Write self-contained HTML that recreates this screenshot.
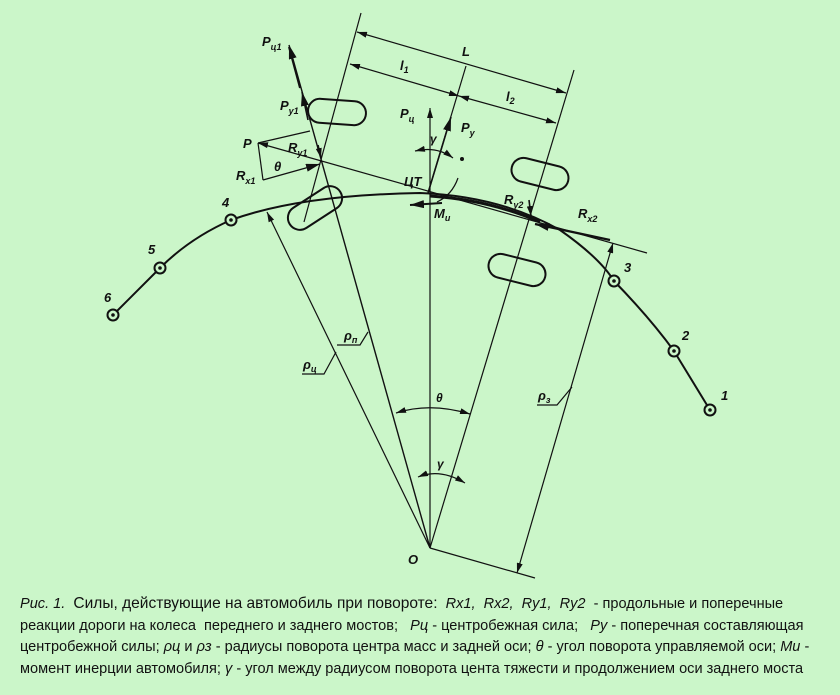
<!DOCTYPE html>
<html><head><meta charset="utf-8"><style>
html,body{margin:0;padding:0;background:#cbf6c9;}
.wrap{position:relative;width:840px;height:695px;overflow:hidden;}
svg{position:absolute;left:0;top:0;}
text{font-family:"Liberation Sans",sans-serif;font-weight:bold;font-style:italic;fill:#111;}
.cap{position:absolute;left:20px;top:593px;width:850px;font-family:"Liberation Sans",sans-serif;font-size:15px;line-height:21.5px;color:#111;white-space:nowrap;transform:scaleX(0.97);transform-origin:0 0;}
.cap i{font-style:italic;}
</style></head><body><div class="wrap">
<svg width="840" height="695" viewBox="0 0 840 695">
<defs>
<marker id="a" viewBox="0 0 10 6" refX="10" refY="3" markerWidth="10" markerHeight="6" orient="auto-start-reverse" markerUnits="userSpaceOnUse"><path d="M0,0 L10,3 L0,6 z" fill="#111"/></marker>
<marker id="b" viewBox="0 0 14 8" refX="14" refY="4" markerWidth="14" markerHeight="8" orient="auto-start-reverse" markerUnits="userSpaceOnUse"><path d="M0,0 L14,4 L0,8 z" fill="#111"/></marker>
</defs>
<g stroke="#111" fill="none" stroke-width="1.2">
<path d="M113,315 L160,268 Q190,238 231,220 Q300,195 420,193 Q500,196 560,230 Q600,258 614,281 Q650,318 674,351 L710,410" stroke-width="2"/>
<path d="M430,196 Q490,200 540,222" stroke-width="3"/>
<line x1="430" y1="548" x2="267" y2="212" marker-end="url(#a)"/>
<line x1="430" y1="548" x2="289" y2="45" marker-end="url(#b)" stroke-width="1.4"/>
<line x1="430" y1="548" x2="430" y2="108" marker-end="url(#a)"/>
<line x1="430" y1="548" x2="574" y2="70"/>
<line x1="430" y1="548" x2="535" y2="578"/>
<line x1="613" y1="243" x2="517" y2="573" marker-start="url(#a)" marker-end="url(#a)"/>
<line x1="258" y1="143" x2="647" y2="253"/>
<line x1="361" y1="13" x2="304" y2="222"/>
<line x1="428" y1="193" x2="466" y2="66"/>
<line x1="428" y1="193" x2="451" y2="117" marker-end="url(#b)" stroke-width="1.6"/>
<line x1="357" y1="32" x2="566" y2="93" marker-start="url(#a)" marker-end="url(#a)"/>
<line x1="350" y1="64" x2="459" y2="96" marker-start="url(#a)" marker-end="url(#a)"/>
<line x1="459" y1="96" x2="556" y2="123" marker-start="url(#a)" marker-end="url(#a)"/>
<line x1="258" y1="143" x2="310" y2="131"/>
<line x1="258" y1="143" x2="263" y2="180"/>
<line x1="263" y1="180" x2="320" y2="164" marker-end="url(#b)" stroke-width="1.4"/>
<line x1="258" y1="143" x2="267" y2="145" marker-start="url(#a)"/>
<line x1="318" y1="145" x2="321" y2="158" marker-end="url(#a)" stroke-width="1.6"/>
<line x1="308" y1="120" x2="302" y2="92" marker-end="url(#b)" stroke-width="1.6"/>
<line x1="300" y1="88" x2="289" y2="47" stroke-width="2"/>
<rect x="-29" y="-12" width="58" height="24" rx="12" transform="translate(337,112) rotate(4)" stroke-width="2"/>
<rect x="-30" y="-12" width="60" height="24" rx="12" transform="translate(315,208) rotate(-33)" stroke-width="2"/>
<rect x="-29" y="-12" width="58" height="24" rx="12" transform="translate(540,174) rotate(14)" stroke-width="2"/>
<rect x="-29" y="-12" width="58" height="24" rx="12" transform="translate(517,270) rotate(14)" stroke-width="2"/>
<line x1="529" y1="200" x2="531" y2="216" marker-end="url(#a)" stroke-width="1.6"/>
<line x1="610" y1="240" x2="535" y2="224" marker-end="url(#b)" stroke-width="2.2"/>
<line x1="442" y1="203" x2="410" y2="205" marker-end="url(#b)" stroke-width="2"/>
<path d="M458,178 Q452,195 437,202"/>
<path d="M415,151 Q437,146 453,158" marker-start="url(#a)" marker-end="url(#a)"/>
<path d="M396,413 Q430,402 470,414" marker-start="url(#a)" marker-end="url(#a)"/>
<path d="M418,477 Q440,468 465,483" marker-start="url(#a)" marker-end="url(#a)"/>
<polyline points="337,345 360,345 368,332"/>
<polyline points="302,374 324,374 336,352"/>
<polyline points="537,405 557,405 572,387"/>
</g>
<circle cx="462" cy="159" r="2" fill="#111"/>
<g fill="#cbf6c9" stroke="#111" stroke-width="2">
<circle cx="113" cy="315" r="5.5"/><circle cx="160" cy="268" r="5.5"/><circle cx="231" cy="220" r="5.5"/>
<circle cx="614" cy="281" r="5.5"/><circle cx="674" cy="351" r="5.5"/><circle cx="710" cy="410" r="5.5"/>
</g>
<g fill="#111"><circle cx="113" cy="315" r="1.8"/><circle cx="160" cy="268" r="1.8"/><circle cx="231" cy="220" r="1.8"/><circle cx="614" cy="281" r="1.8"/><circle cx="674" cy="351" r="1.8"/><circle cx="710" cy="410" r="1.8"/></g>
<g font-size="13">
<text x="104" y="302">6</text><text x="148" y="254">5</text><text x="222" y="207">4</text>
<text x="624" y="272">3</text><text x="682" y="340">2</text><text x="721" y="400">1</text>
<text x="462" y="56">L</text>
<text x="400" y="70">l<tspan font-size="9" dy="3">1</tspan></text>
<text x="506" y="101">l<tspan font-size="9" dy="3">2</tspan></text>
<text x="262" y="46">P<tspan font-size="9" dy="4">ц1</tspan></text>
<text x="280" y="110">P<tspan font-size="9" dy="4">y1</tspan></text>
<text x="243" y="148">P</text>
<text x="288" y="152">R<tspan font-size="9" dy="4">y1</tspan></text>
<text x="274" y="171">θ</text>
<text x="236" y="180">R<tspan font-size="9" dy="4">x1</tspan></text>
<text x="400" y="118">P<tspan font-size="9" dy="4">ц</tspan></text>
<text x="461" y="132">P<tspan font-size="9" dy="4">y</tspan></text>
<text x="430" y="143" font-style="normal" font-size="12">γ</text>
<text x="404" y="186">ЦТ</text>
<text x="434" y="218">M<tspan font-size="9" dy="3">и</tspan></text>
<text x="504" y="204">R<tspan font-size="9" dy="4">y2</tspan></text>
<text x="578" y="218">R<tspan font-size="9" dy="4">x2</tspan></text>
<text x="344" y="340" font-style="normal">ρ<tspan font-size="9" dy="3">п</tspan></text>
<text x="303" y="369" font-style="normal">ρ<tspan font-size="9" dy="3">ц</tspan></text>
<text x="538" y="400" font-style="normal">ρ<tspan font-size="9" dy="3">з</tspan></text>
<text x="436" y="402" font-style="normal" font-size="12">θ</text>
<text x="437" y="468" font-style="normal" font-size="12">γ</text>
<text x="408" y="564" font-weight="normal">O</text>
</g>
</svg>
<div class="cap"><i>Рис. 1.</i>&nbsp; <span style="font-size:16px">Силы, действующие на автомобиль при повороте:</span>&nbsp; <i>Rx1,&nbsp; Rx2,&nbsp; Ry1,&nbsp; Ry2</i>&nbsp; - продольные и поперечные<br>реакции дороги на колеса&nbsp; переднего и заднего мостов;&nbsp;&nbsp; <i>Pц</i> - центробежная сила;&nbsp;&nbsp; <i>Py</i> - поперечная составляющая<br>центробежной силы; <i>ρц</i> и <i>ρз</i> - радиусы поворота центра масс и задней оси; <i>θ</i> - угол поворота управляемой оси; <i>Mи</i> -<br>момент инерции автомобиля; <i>γ</i> - угол между радиусом поворота цента тяжести и продолжением оси заднего моста</div>
</div></body></html>
